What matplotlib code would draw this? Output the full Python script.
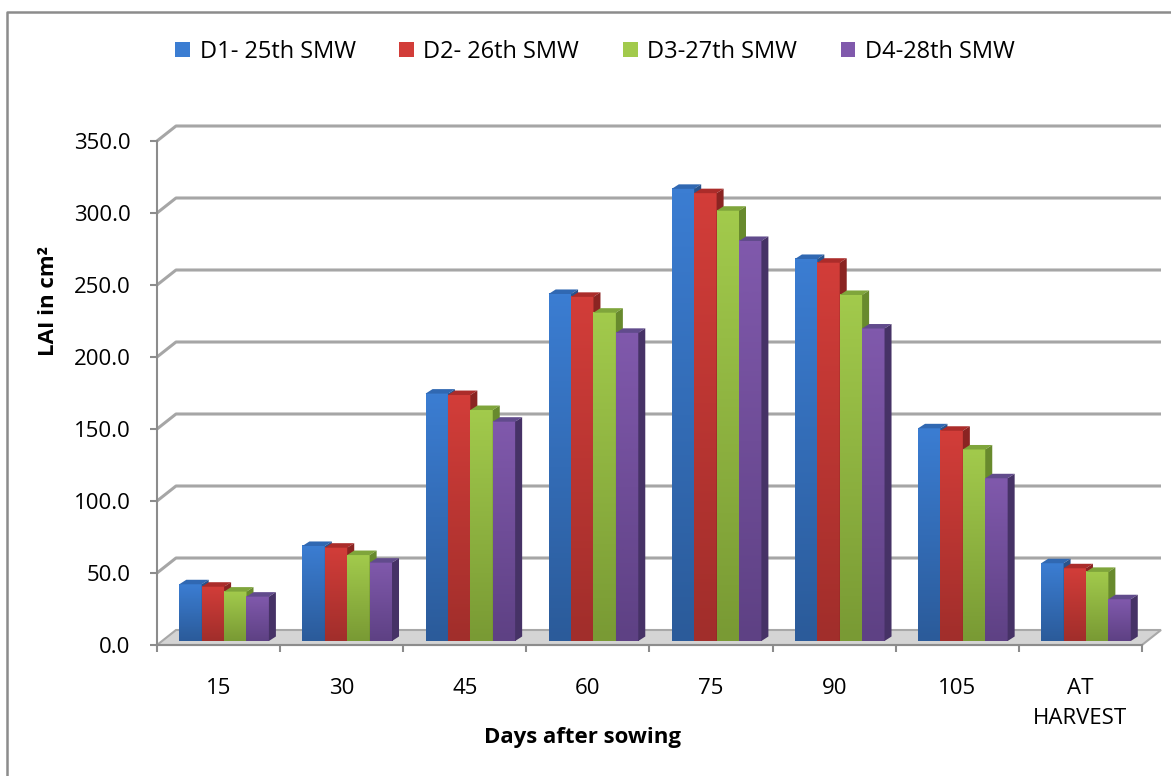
import matplotlib
matplotlib.use("Agg")
import matplotlib.pyplot as plt
import numpy as np
from matplotlib.patches import Polygon
from matplotlib.colors import LinearSegmentedColormap
from matplotlib.lines import Line2D

plt.rcParams['font.family'] = ['Open Sans', 'DejaVu Sans']

categories = ['15', '30', '45', '60', '75', '90', '105', 'AT\nHARVEST']
series_names = ['D1- 25th SMW', 'D2- 26th SMW', 'D3-27th SMW', 'D4-28th SMW']
d1 = [39.4, 66.0, 171.8, 241.0, 314.0, 265.3, 147.7, 54.0]
d2 = [37.7, 64.8, 170.8, 239.0, 311.0, 262.7, 146.0, 50.5]
d3 = [34.3, 59.7, 160.4, 228.0, 298.8, 240.3, 133.0, 48.0]
d4 = [30.8, 54.4, 152.3, 214.0, 277.8, 217.0, 113.0, 29.0]
yticks = [0, 50, 100, 150, 200, 250, 300, 350]

# colours: front top, front bottom, cap, side
colours = [
    ('#3b7dd2', '#2b5b9a', '#3068b2', '#29538c'),
    ('#d23d39', '#a12e2b', '#ab2c2a', '#8a2422'),
    ('#a2ca4c', '#799a34', '#7fa53b', '#688a2d'),
    ('#8059ac', '#5e4184', '#614b8c', '#463266'),
]

W, H = 1171, 776
fig = plt.figure(figsize=(W / 100, H / 100), dpi=100)
x_left, x_right, y_bot, y_top = 157, 1142, 645, 141
ax = fig.add_axes([x_left / W, 1 - y_bot / H, (x_right - x_left) / W, (y_bot - y_top) / H])

n = len(categories)
px_cat = (x_right - x_left) / n
px_val = (y_bot - y_top) / 350.0
DX, DY = 19 / px_cat, 15 / px_val          # wall depth
bdx, bdy = 7 / px_cat, 4.5 / px_val        # bar depth
base = 4 / px_val
bw = 22.4 / px_cat
off = 22.3 / px_cat
xr = (1161 - x_left) / px_cat

grid_c = '#a6a6a6'
for v in yticks[1:]:
    ax.plot([0, DX, xr], [v, v + DY, v + DY], color=grid_c, lw=2.2,
            clip_on=False, zorder=1, solid_capstyle='butt')

floor = Polygon([(0, 0), (8, 0), (xr, DY), (DX, DY)], closed=True,
                facecolor='#d4d4d4', edgecolor='#a8a8a8', lw=1.5, zorder=2, clip_on=False)
ax.add_patch(floor)

idx = np.arange(n)
handles = []
for k, vals in enumerate([d1, d2, d3, d4]):
    ctop, cbot, ccap, cside = colours[k]
    z = 3 + k
    lefts = idx + off + k * bw
    bars = ax.bar(lefts, vals, width=bw, bottom=base, align='edge',
                  color=ctop, edgecolor='none', zorder=z, label=series_names[k])
    handles.append(bars)
    cmap = LinearSegmentedColormap.from_list('g%d' % k, [cbot, ctop])
    for rect in bars:
        x0, y0 = rect.get_xy()
        w, h = rect.get_width(), rect.get_height()
        ax.imshow(np.linspace(0, 1, 64).reshape(-1, 1), extent=(x0, x0 + w, y0, y0 + h),
                  origin='lower', aspect='auto', cmap=cmap, zorder=z + 0.05,
                  interpolation='bicubic')
        top = y0 + h
        ax.add_patch(Polygon([(x0, top), (x0 + w, top), (x0 + w + bdx, top + bdy),
                              (x0 + bdx, top + bdy)], closed=True, facecolor=ccap,
                             edgecolor='none', zorder=z + 0.1, clip_on=False))
        ax.add_patch(Polygon([(x0 + w, y0), (x0 + w + bdx, y0 + bdy),
                              (x0 + w + bdx, top + bdy), (x0 + w, top)], closed=True,
                             facecolor=cside, edgecolor='none', zorder=z + 0.2, clip_on=False))

ax.set_xlim(0, n)
ax.set_ylim(0, 350)
ax.set_facecolor('none')
for s in ['top', 'right']:
    ax.spines[s].set_visible(False)
for s in ['left', 'bottom']:
    ax.spines[s].set_color('#8c8c8c')
    ax.spines[s].set_linewidth(1.5)
    ax.spines[s].set_zorder(10)

ax.set_yticks(yticks)
ax.set_yticklabels(['%.1f' % v for v in yticks])
ax.tick_params(axis='y', direction='out', length=5, width=1.5, color='#8c8c8c',
               pad=14, labelsize=16)
ax.set_xticks(np.arange(n + 1))
ax.set_xticklabels([])
ax.set_xticks(idx + 0.5, minor=True)
ax.set_xticklabels(categories, minor=True)
ax.tick_params(axis='x', which='major', direction='out', length=5, width=1.5, color='#8c8c8c')
ax.tick_params(axis='x', which='minor', length=0, pad=24, labelsize=16)
for t in ax.get_xticklabels(minor=True):
    t.set_linespacing(1.55)

fig.text(48 / W, 1 - 301 / H, 'LAI in cm²', rotation=90, ha='center', va='center',
         fontsize=16, fontweight='bold')
fig.text(583 / W, 1 - 737 / H, 'Days after sowing', ha='center', va='center',
         fontsize=16, fontweight='bold')

leg = fig.legend(handles, series_names, loc='center left', bbox_to_anchor=(166 / W, 1 - 52 / H),
                 ncol=4, frameon=False, fontsize=17, handlelength=0.62, handleheight=0.62,
                 handletextpad=0.4, columnspacing=1.85, borderaxespad=0)

fig.add_artist(Line2D([7 / W, 7 / W, 1.0], [0.0, 1 - 12 / H, 1 - 12 / H],
                      transform=fig.transFigure, color='#8c8c8c', lw=1.8))

fig.savefig('out.png', dpi=100)
